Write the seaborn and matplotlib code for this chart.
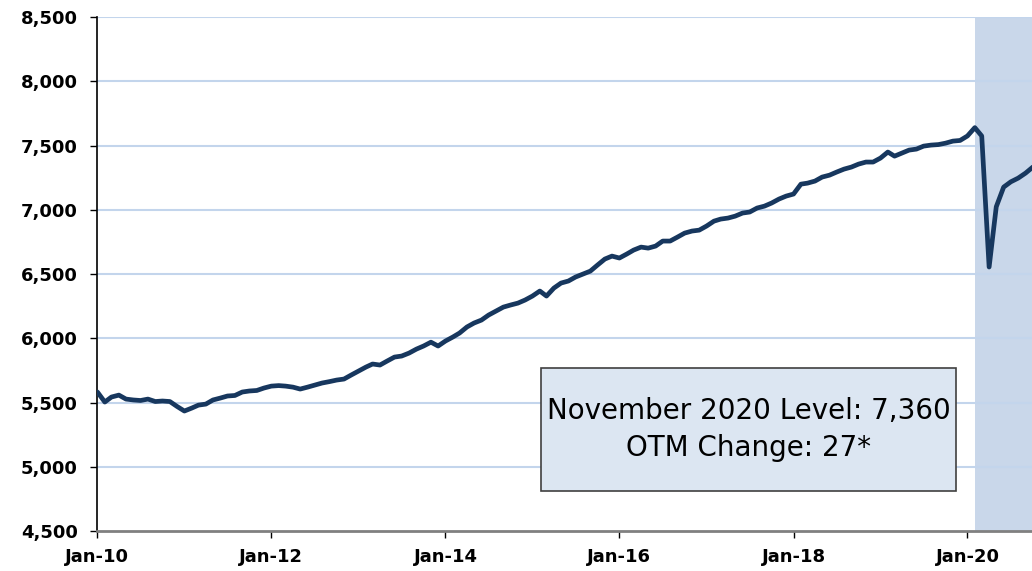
import pandas as pd
import matplotlib
matplotlib.use("Agg")
import matplotlib.pyplot as plt
import matplotlib.patches as mpatches
import seaborn as sns

# Monthly level, Jan 2010 - Nov 2020
level = [
    5582, 5504, 5543, 5558, 5527, 5520, 5516, 5527, 5508, 5512, 5508, 5470,
    5434, 5457, 5480, 5488, 5520, 5535, 5551, 5555, 5582, 5590, 5594, 5613,
    5628, 5632, 5628, 5620, 5605, 5620, 5636, 5652, 5663, 5675, 5683, 5714,
    5745, 5776, 5800, 5792, 5823, 5854, 5862, 5885, 5916, 5940, 5970, 5940,
    5979, 6010, 6041, 6088, 6119, 6142, 6181, 6212, 6243, 6259, 6274, 6298,
    6329, 6368, 6329, 6391, 6430, 6446, 6477, 6500, 6523, 6570, 6617, 6640,
    6625, 6656, 6687, 6710, 6702, 6718, 6757, 6757, 6788, 6819, 6835, 6842,
    6874, 6912, 6928, 6936, 6951, 6975, 6983, 7014, 7029, 7053, 7084, 7107,
    7123, 7200, 7208, 7224, 7255, 7270, 7294, 7317, 7333, 7356, 7372, 7372,
    7403, 7450, 7418, 7442, 7465, 7473, 7496, 7504, 7508, 7519, 7535, 7540,
    7575, 7640, 7575, 6555, 7024, 7177, 7218, 7247, 7286, 7333, 7360,
]
months = pd.date_range("2010-01-01", periods=len(level), freq="MS")
tick_years = [2010, 2012, 2014, 2016, 2018, 2020]
tick_labels = ["Jan-10", "Jan-12", "Jan-14", "Jan-16", "Jan-18", "Jan-20"]
y_ticks = [4500, 5000, 5500, 6000, 6500, 7000, 7500, 8000, 8500]
recession_start = "2020-02-01"
box_text = "November 2020 Level: 7,360\nOTM Change: 27*"

df = pd.DataFrame({"Month": months, "Level": level})

sns.set_style("white")
plt.rcParams["font.family"] = ["DejaVu Sans"]

fig = plt.figure(figsize=(10.32, 5.71), dpi=100)
ax = fig.add_axes([0.0944, 0.070, 0.9056, 0.900])

# recession shading
ax.axvspan(pd.Timestamp(recession_start), pd.Timestamp("2021-06-01"),
           color="#c9d7ea", zorder=0, lw=0)

for v in y_ticks[1:]:
    ax.axhline(v, color="#c3d5ec", lw=1.5, zorder=1)

sns.lineplot(data=df, x="Month", y="Level", ax=ax, color="#17375e",
             lw=3.4, zorder=3)

ax.set_ylim(4500, 8500)
ax.set_xlim(pd.Timestamp("2010-01-01"), pd.Timestamp("2020-09-28"))
ax.set_yticks(y_ticks)
ax.set_yticklabels([f"{v:,}" for v in y_ticks])
ax.set_xticks([pd.Timestamp(f"{y}-01-01") for y in tick_years])
ax.set_xticklabels(tick_labels)
ax.set_xlabel("")
ax.set_ylabel("")

for lab in ax.get_xticklabels() + ax.get_yticklabels():
    lab.set_fontweight("bold")
    lab.set_fontsize(13)

ax.tick_params(axis="both", direction="out", length=5, width=1,
               colors="black", left=True, bottom=True)
ax.tick_params(axis="y", pad=9)
ax.tick_params(axis="x", pad=7)

for s in ["top", "right"]:
    ax.spines[s].set_visible(False)
ax.spines["left"].set_color("black")
ax.spines["left"].set_linewidth(1.2)
ax.spines["bottom"].set_color("#808080")
ax.spines["bottom"].set_linewidth(2)
ax.spines["bottom"].set_zorder(4)

# annotation box
box = mpatches.Rectangle((0.4747, 0.0778), 0.444, 0.239, transform=ax.transAxes,
                         facecolor="#dce6f2", edgecolor="#404040", lw=1.2,
                         zorder=5)
ax.add_patch(box)
ax.text(0.4747 + 0.222, 0.0778 + 0.1195, box_text, transform=ax.transAxes,
        ha="center", va="center", fontsize=20, linespacing=1.4,
        color="black", zorder=6)

fig.savefig("out.png", dpi=100)
